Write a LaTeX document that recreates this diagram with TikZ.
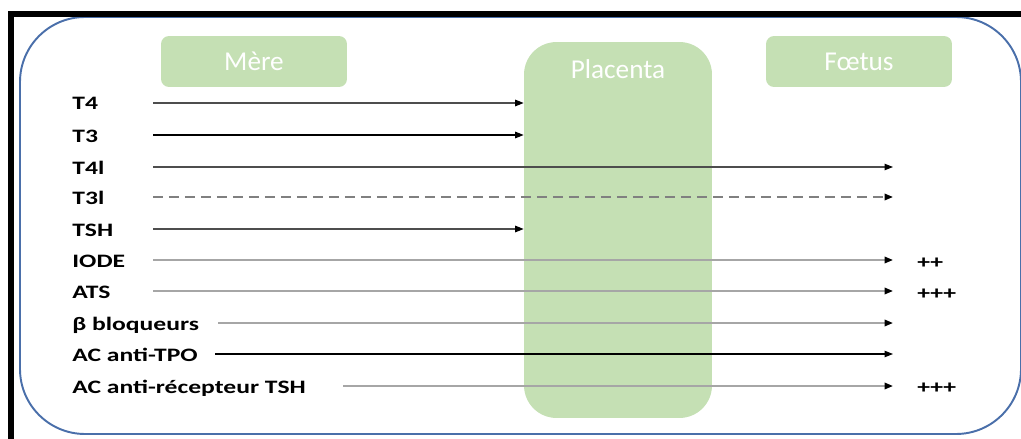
\documentclass[tikz,border=0pt]{standalone}
\usepackage{fontspec}
\setmainfont{Carlito}
\newfontfamily\widefont[FakeStretch=1.35]{Carlito}
\usetikzlibrary{arrows.meta, positioning}
\definecolor{cgreen}{HTML}{C5E0B4}
\definecolor{cframe}{HTML}{4A6FAA}
\definecolor{cline}{HTML}{A6A6A6}
\definecolor{cdark}{HTML}{4D4D4D}
\tikzset{
  panel/.style={fill=cgreen, rounded corners=0.16cm, minimum width=3.72cm, minimum height=1.02cm, text=white, font=\fontsize{15.5}{18}\selectfont},
  boxtxt/.style={text=white, inner sep=0pt, font=\fontsize{15.5}{18}\selectfont},
  lbl/.style={anchor=base west, inner sep=0pt, font=\widefont\bfseries\fontsize{10.8}{12}\selectfont},
  dose/.style={anchor=west, inner sep=0pt, font=\widefont\bfseries\fontsize{10.8}{12}\selectfont},
  pass/.style={-{Triangle[length=0.17cm, width=0.13cm, color=black]}, draw=black, line width=0.6pt},
  passgrey/.style={pass, draw=cline, line width=1.1pt},
}

\begin{document}
\begin{tikzpicture}[x=0.02cm, y=-0.02cm]
  \useasboundingbox (0,0) rectangle (1021,439);
  \draw[cframe, line width=1.1pt, rounded corners=1.3cm] (20,17) rectangle (1021,434);
  \fill[black] (8,11) rectangle (1021,17);
  \fill[black] (8,11) rectangle (14,439);

  \node[panel] (mere) at (254,61.5) {Mère};
  \node[panel] (foetus) at (859,61.5) {Fœtus};
  \node[fill=cgreen, rounded corners=0.65cm, minimum width=3.76cm, minimum height=7.52cm,
        label={[boxtxt, anchor=north, yshift=-0.36cm]north:Placenta}] (placenta) at (618,230) {};
  \coordinate (f-end) at (893,0);

  % stopped by the placenta
  \node[lbl] (t4) at (72,110) {T4};
  \coordinate (t4-s) at (153,103);
  \draw[pass, draw=cdark] (t4-s) -- (placenta.west |- t4-s);
  \node[lbl] (t3) at (72,142) {T3};
  \coordinate (t3-s) at (153,135);
  \draw[pass] (t3-s) -- (placenta.west |- t3-s);

  % cross the placenta
  \node[lbl] (t4l) at (72,174) {T4l};
  \coordinate (t4l-s) at (153,167);
  \draw[pass, draw=cdark] (t4l-s) -- (f-end |- t4l-s);
  \node[lbl] (t3l) at (72,204) {T3l};
  \coordinate (t3l-s) at (153,197);
  \draw[passgrey, draw=gray, dash pattern=on 0.2cm off 0.12cm] (t3l-s) -- (f-end |- t3l-s);

  \node[lbl] (tsh) at (72,236) {TSH};
  \coordinate (tsh-s) at (153,229);
  \draw[pass, draw=cdark] (tsh-s) -- (placenta.west |- tsh-s);

  \node[lbl] (iode) at (72,267) {IODE};
  \coordinate (iode-s) at (153,260);
  \draw[passgrey] (iode-s) -- (f-end |- iode-s);
  \node[dose] (iode-d) at (917,263) {++};
  \node[lbl] (ats) at (72,298) {ATS};
  \coordinate (ats-s) at (153,291);
  \draw[passgrey] (ats-s) -- (f-end |- ats-s);
  \node[dose] (ats-d) at (917,294) {+++};
  \node[lbl] (bbloq) at (72,330) {β bloqueurs};
  \coordinate (bbloq-s) at (218,323);
  \draw[passgrey] (bbloq-s) -- (f-end |- bbloq-s);
  \node[lbl] (tpo) at (72,361) {AC anti-TPO};
  \coordinate (tpo-s) at (215,354);
  \draw[pass] (tpo-s) -- (f-end |- tpo-s);
  \node[lbl] (trak) at (72,393) {AC anti-récepteur TSH};
  \coordinate (trak-s) at (343,386);
  \draw[passgrey] (trak-s) -- (f-end |- trak-s);
  \node[dose] (trak-d) at (917,388) {+++};
\end{tikzpicture}
\end{document}
